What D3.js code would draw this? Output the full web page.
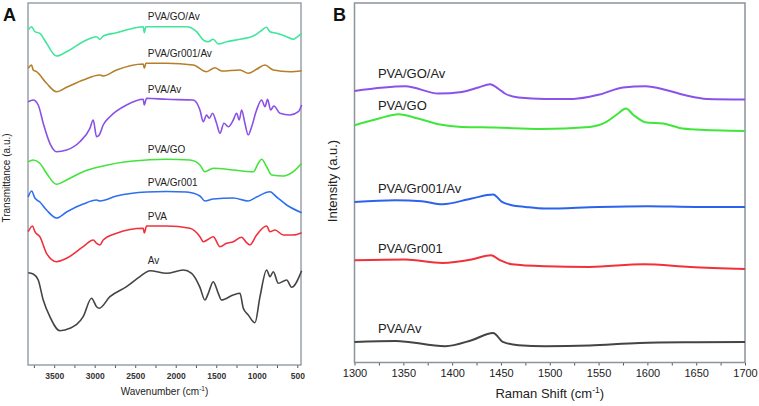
<!DOCTYPE html>
<html><head><meta charset="utf-8">
<script src="https://cdn.jsdelivr.net/npm/d3@7"></script>
<style>body{margin:0;background:#fff}svg{display:block;font-family:"Liberation Sans",Arial,sans-serif}</style>
</head><body><svg id="c" width="759" height="406"></svg>
<script>
// ---------- Panel A : FTIR (wavenumber, transmittance a.u.) ----------
const ftirTicks = [3500,3000,2500,2000,1500,1000,500];
const ftirNames = ["PVA/GO/Av","PVA/Gr001/Av","PVA/Av","PVA/GO","PVA/Gr001","PVA","Av"];
const ftirColors = ["#3fe69c","#b57f2a","#8b50e4","#42e43c","#2d6ff0","#f0303c","#444444"];
const ftirLabelY = [34.5,30.8,27.2,21.25,17.9,14.5,10.15];
const ftirGOAv = [[3821,33.5],[3779,33.83],[3738,33.33],[3677,33.17],[3594,32.17],[3471,30.9],[3347,31.33],[3142,32.33],[2977,32.83],[2936,32.57],[2895,32.9],[2730,33.23],[2524,33.67],[2401,33.83],[2388,33.23],[2368,33.83],[2113,33.83],[1866,33.83],[1742,33.33],[1660,32.5],[1598,32.33],[1537,32.57],[1475,32.1],[1372,32.33],[1207,32.57],[1043,32.9],[960,33.33],[878,33.77],[837,33.33],[755,33.17],[631,32.83],[549,32.57],[508,32.77],[446,33.17]];
const ftirGrAv = [[3821,29.67],[3779,30.0],[3759,29.5],[3718,29.33],[3594,28.17],[3471,27.33],[3347,27.77],[3142,28.5],[2936,29.0],[2895,28.9],[2730,29.5],[2401,30.1],[2388,29.67],[2368,30.17],[2113,30.17],[1784,30.0],[1619,29.33],[1516,29.73],[1434,29.4],[1207,29.5],[1105,29.17],[1002,29.57],[899,30.0],[796,29.5],[590,29.33],[446,29.43]];
const ftirPVAAv = [[3821,26.33],[3759,26.5],[3697,26.0],[3635,24.17],[3553,22.17],[3471,21.33],[3347,21.5],[3183,22.33],[3059,23.67],[3018,24.5],[2977,22.83],[2944,23.0],[2895,24.0],[2812,24.83],[2607,26.0],[2401,26.57],[2388,26.0],[2360,26.67],[2113,26.57],[1784,26.5],[1701,25.5],[1660,24.33],[1619,25.0],[1586,24.67],[1545,25.17],[1496,24.17],[1454,23.17],[1405,24.17],[1351,23.83],[1290,24.5],[1249,25.17],[1216,24.5],[1187,25.5],[1146,24.17],[1105,23.0],[1063,23.83],[1002,25.5],[940,26.5],[899,25.83],[866,26.57],[829,25.5],[788,25.9],[714,25.17],[590,25.0],[487,25.33],[446,26.0]];
const ftirGO = [[3821,20.33],[3759,20.5],[3677,20.17],[3594,19.17],[3471,18.07],[3347,18.5],[3142,19.33],[2936,19.83],[2524,20.4],[2113,20.57],[1825,20.5],[1701,20.0],[1640,19.33],[1537,19.67],[1290,19.5],[1043,19.33],[981,20.17],[940,20.57],[878,19.83],[816,19.0],[672,18.9],[549,19.33],[446,20.17]];
const ftirGr = [[3821,16.8],[3779,17.4],[3738,16.7],[3677,16.3],[3594,15.5],[3471,14.7],[3347,15.3],[3142,16.1],[2977,16.5],[2936,16.4],[2730,16.9],[2360,17.3],[2113,17.35],[1866,17.3],[1701,16.9],[1640,16.4],[1537,16.6],[1290,16.7],[1105,16.4],[1002,16.8],[837,17.33],[755,16.8],[631,16.0],[446,15.23]];
const ftirPVA = [[3821,13.33],[3767,13.9],[3738,13.33],[3677,12.83],[3594,11.17],[3471,10.33],[3347,10.67],[3142,11.83],[3018,12.5],[2977,12.17],[2936,12.0],[2895,12.5],[2730,13.17],[2401,13.67],[2388,13.2],[2360,13.9],[2113,13.9],[1825,13.67],[1701,12.83],[1660,12.33],[1598,12.57],[1537,12.83],[1454,11.83],[1372,12.17],[1290,12.33],[1187,12.77],[1125,12.23],[1084,12.0],[1002,13.0],[878,13.9],[837,13.33],[775,13.5],[672,13.0],[549,13.0],[446,13.23]];
const ftirAv = [[3821,9.23],[3759,9.1],[3697,8.5],[3635,6.5],[3553,4.83],[3430,3.43],[3306,3.67],[3142,4.83],[3039,6.67],[2977,5.83],[2944,5.67],[2812,6.83],[2607,7.83],[2442,8.83],[2318,9.43],[2113,9.17],[1907,9.5],[1804,9.17],[1701,7.77],[1640,6.5],[1598,7.17],[1537,8.33],[1475,7.17],[1434,6.5],[1290,7.0],[1207,7.17],[1166,5.67],[1105,5.0],[1022,4.23],[960,6.83],[878,9.5],[837,8.83],[796,9.33],[734,8.17],[631,8.5],[570,7.77],[446,9.43]];
const ftirSeries = [ftirGOAv, ftirGrAv, ftirPVAAv, ftirGO, ftirGr, ftirPVA, ftirAv];

// ---------- Panel B : Raman (shift, intensity a.u.) ----------
const ramanTicks = [1300,1350,1400,1450,1500,1550,1600,1650,1700];
const ramanNames = ["PVA/GO/Av","PVA/GO","PVA/Gr001/Av","PVA/Gr001","PVA/Av"];
const ramanColors = ["#8a52e8","#40e63a","#2c63ec","#f2303a","#444444"];
const ramanLabelY = [28.5,25.3,17.0,11.0,3.0];
const ramanGOAv = [[1300,27.16],[1352,27.63],[1386,26.9],[1410,27.06],[1427,27.5],[1439,27.83],[1447,27.4],[1454,26.9],[1468,26.5],[1495,26.36],[1524,26.36],[1551,26.8],[1575,27.5],[1598,27.63],[1620,27.23],[1640,26.7],[1661,26.36],[1700,26.3]];
const ramanGO = [[1300,23.73],[1325,24.4],[1345,24.83],[1365,24.4],[1386,23.83],[1410,23.56],[1444,23.5],[1490,23.36],[1541,23.56],[1558,24.06],[1570,24.9],[1578,25.4],[1586,24.73],[1599,24.0],[1616,23.9],[1633,23.46],[1650,23.3],[1700,23.16]];
const ramanGrAv = [[1300,16.06],[1342,16.23],[1369,16.13],[1390,15.83],[1420,16.4],[1442,16.8],[1451,16.06],[1461,15.73],[1475,15.56],[1495,15.4],[1550,15.56],[1600,15.63],[1650,15.56],[1700,15.56]];
const ramanGr = [[1300,10.23],[1352,10.3],[1390,9.96],[1420,10.3],[1440,10.73],[1449,10.23],[1461,9.83],[1495,9.63],[1541,9.56],[1596,9.83],[1644,9.56],[1700,9.36]];
const ramanPVAAv = [[1300,2.06],[1342,2.16],[1393,1.63],[1420,2.23],[1442,2.96],[1452,2.06],[1468,1.73],[1495,1.63],[1541,1.7],[1592,1.96],[1650,2.03],[1700,2.06]];
const ramanSeries = [ramanGOAv, ramanGO, ramanGrAv, ramanGr, ramanPVAAv];

const svg = d3.select("#c");
const frameCol = "#8b939b";

// ----- Panel A -----
const A = {l:28, r:301, t:3, b:365};
const xA = d3.scaleLinear().domain([3823, 454]).range([A.l, A.r]);
const yA = d3.scaleLinear().domain([0, 36.2]).range([A.b, A.t]);
const gA = svg.append("g");
const axA = d3.axisBottom(xA).tickValues(d3.range(3750, 450, -250)).tickSize(3).tickFormat(d => ftirTicks.includes(d) ? d : "");
gA.append("g").attr("transform",`translate(0,${A.b})`).call(axA)
  .call(g => { g.select(".domain").remove(); g.selectAll("line").attr("stroke","#555");
    g.selectAll("text").attr("font-size",8.5).attr("font-weight","bold").attr("fill","#333").attr("dy","0.9em"); });
gA.append("rect").attr("x",A.l).attr("y",A.t).attr("width",A.r-A.l).attr("height",A.b-A.t)
  .attr("fill","none").attr("stroke",frameCol).attr("stroke-width",1.3);
const lineA = d3.line().x(d=>xA(d[0])).y(d=>yA(d[1])).curve(d3.curveMonotoneX);
ftirSeries.forEach((s,i)=>{
  gA.append("path").datum(s).attr("d",lineA).attr("fill","none").attr("stroke",ftirColors[i]).attr("stroke-width",1.6).attr("stroke-linejoin","round");
  gA.append("text").attr("x",xA(2345)).attr("y",yA(ftirLabelY[i])).attr("font-size",10).attr("fill","#222").text(ftirNames[i]);
});
const tA = gA.append("text").attr("x",(A.l+A.r)/2).attr("y",395).attr("text-anchor","middle").attr("font-size",10).attr("fill","#222");
tA.append("tspan").text("Wavenumber (cm");
tA.append("tspan").attr("font-size",6.5).attr("dy",-4).text("-1");
tA.append("tspan").attr("dy",4).text(")");
gA.append("text").attr("transform",`translate(10,178) rotate(-90)`).attr("text-anchor","middle").attr("font-size",10).attr("fill","#222").text("Transmittance (a.u.)");
gA.append("text").attr("x",3).attr("y",21).attr("font-size",18).attr("font-weight","bold").attr("fill","#111").text("A");

// ----- Panel B -----
const B = {l:354.5, r:745, t:3, b:362.5};
const xB = d3.scaleLinear().domain([1300,1700]).range([B.l,B.r]);
const yB = d3.scaleLinear().domain([0,35.95]).range([B.b,B.t]);
const gB = svg.append("g");
const axB = d3.axisBottom(xB).tickValues(d3.range(1300,1701,25)).tickSize(3).tickFormat(d => ramanTicks.includes(d) ? d : "");
gB.append("g").attr("transform",`translate(0,${B.b})`).call(axB)
  .call(g => { g.select(".domain").remove(); g.selectAll("line").attr("stroke","#555");
    g.selectAll("text").attr("font-size",11).attr("fill","#222").attr("dy","0.75em"); });
gB.append("rect").attr("x",B.l).attr("y",B.t).attr("width",B.r-B.l).attr("height",B.b-B.t)
  .attr("fill","none").attr("stroke",frameCol).attr("stroke-width",1.5);
const lineB = d3.line().x(d=>xB(d[0])).y(d=>yB(d[1])).curve(d3.curveMonotoneX);
ramanSeries.forEach((s,i)=>{
  gB.append("path").datum(s).attr("d",lineB).attr("fill","none").attr("stroke",ramanColors[i]).attr("stroke-width",2).attr("stroke-linejoin","round");
  gB.append("text").attr("x",xB(1324)).attr("y",yB(ramanLabelY[i])).attr("font-size",13).attr("fill","#222").text(ramanNames[i]);
});
const tB = gB.append("text").attr("x",(B.l+B.r)/2).attr("y",398).attr("text-anchor","middle").attr("font-size",13).attr("fill","#222");
tB.append("tspan").text("Raman Shift (cm");
tB.append("tspan").attr("font-size",8.5).attr("dy",-5).text("-1");
tB.append("tspan").attr("dy",5).text(")");
gB.append("text").attr("transform",`translate(337,181) rotate(-90)`).attr("text-anchor","middle").attr("font-size",13).attr("fill","#222").text("Intensity (a.u.)");
gB.append("text").attr("x",333).attr("y",21).attr("font-size",18).attr("font-weight","bold").attr("fill","#111").text("B");
</script></body></html>
